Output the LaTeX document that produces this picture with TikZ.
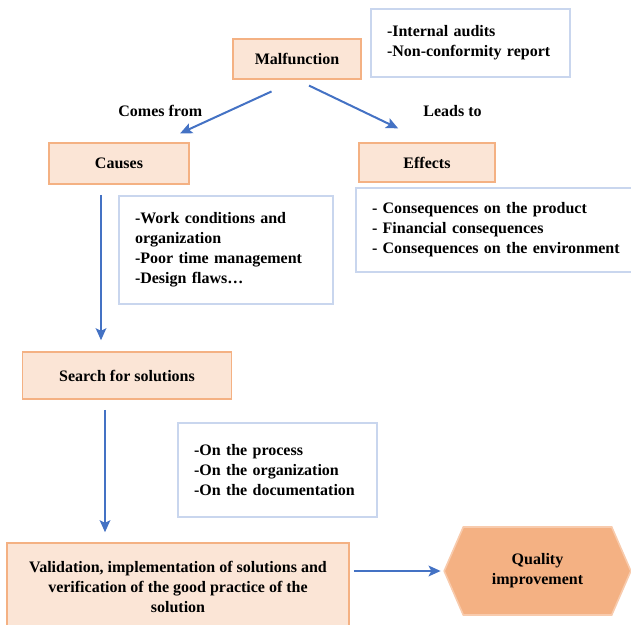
\documentclass[tikz,border=0pt]{standalone}
\usepackage{fontspec}
\setmainfont{Liberation Serif}
\usepackage{tikz}
\usetikzlibrary{positioning,arrows.meta,shapes.symbols}

\definecolor{peach}{HTML}{FBE5D6}
\definecolor{peachline}{HTML}{F4B183}
\definecolor{hexline}{HTML}{F8CBAD}
\definecolor{noteline}{HTML}{C9D6EE}
\definecolor{flowblue}{HTML}{4472C4}

\tikzset{
  txt/.style={font=\bfseries\fontsize{12}{15}\selectfont},
  stage/.style={txt, draw=peachline, fill=peach, line width=1.2pt, align=center, inner sep=0pt},
  note/.style={txt, draw=noteline, fill=white, line width=1.2pt, align=left, inner xsep=12pt, inner ysep=0pt},
  flow/.style={draw=flowblue, line width=1.5pt, -{Stealth[length=9pt,width=8pt,inset=2pt]}}
}

\begin{document}
\begin{tikzpicture}[x=0.75pt, y=-0.75pt]
  \clip (0,0) rectangle (631,624);
  \node[stage, minimum width=96pt, minimum height=30pt] (mal) at (297,59) {Malfunction};
  \node[note, text width=125.25pt, minimum height=51pt] (audits) at (470.5,43) {-Internal audits\\-Non-conformity report};
  \node[stage, minimum width=105pt, minimum height=30.75pt] (causes) at (119,163.5) {Causes};
  \node[stage, minimum width=102pt, minimum height=29.25pt] (effects) at (427,162.5) {Effects};
  \node[note, text width=136.5pt, minimum height=81pt] (causelist) at (226,250) {-Work conditions and\\organization\\-Poor time management\\-Design flaws\dots};
  \node[note, text width=192pt, minimum height=63pt] (effectlist) at (500,230) {- Consequences on the product\\- Financial consequences\\- Consequences on the environment};
  \node[stage, minimum width=157pt, minimum height=35.25pt] (search) at (127,375.5) {Search for solutions};
  \node[note, text width=125.25pt, minimum height=70.5pt] (solutionlist) at (277.5,470) {-On the process\\-On the organization\\-On the documentation};
  \node[stage, minimum width=256.5pt, minimum height=66pt] (val) at (178,587) {Validation, implementation of solutions and\\verification of the good practice of the\\solution};
  \node[txt, signal, signal to=east and west, signal pointer angle=133, draw=hexline, fill=peachline, line width=1.2pt,
        minimum width=140pt, minimum height=66pt, align=center, inner sep=0pt] (hex) at (537.5,571) {Quality\\improvement};

  \path
  (mal.south) edge[flow, shorten <=21pt, shorten >=16pt] node[txt, left=16pt] {Comes from} (causes.27)
  (mal.south) edge[flow, shorten <=10pt, shorten >=24pt] node[txt, right=42pt] {Leads to} (effects.north)
  ([xshift=-13.5pt]causes.south) edge[flow, shorten <=7.5pt, shorten >=8.25pt] ([xshift=-13.5pt]causes.south |- search.north)
  ([xshift=-16.5pt]search.south) edge[flow, shorten <=7.5pt, shorten >=7.5pt] ([xshift=-16.5pt]search.south |- val.north)
  (val.east |- hex.west) edge[flow, shorten <=3pt, shorten >=2pt] (hex.west)
  ;
\end{tikzpicture}
\end{document}
